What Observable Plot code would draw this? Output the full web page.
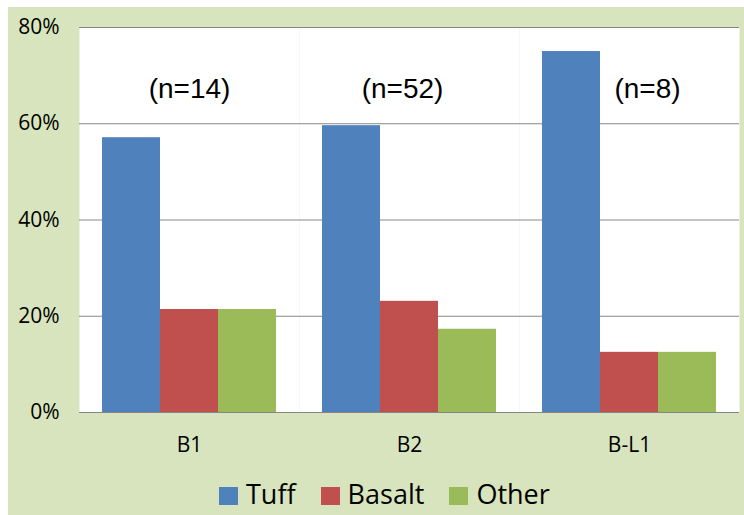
<!DOCTYPE html>
<html>
<head>
<meta charset="utf-8">
<script src="https://cdn.jsdelivr.net/npm/d3@7"></script>
<script src="https://cdn.jsdelivr.net/npm/@observablehq/plot@0.6"></script>
<style>
  html, body { margin: 0; padding: 0; background: #fff; }
  #wrap { position: relative; width: 744px; height: 515px; overflow: hidden; background: #fff; }
  #panel { position: absolute; left: 8px; top: 7px; right: 0; bottom: 0; background: #d7e4bd; }
  #chart { position: absolute; left: 0; top: 0; }
  #legend {
    position: absolute; left: 219px; top: 479px; height: 30px;
    display: flex; align-items: center;
    font-family: "Open Sans", sans-serif; font-size: 27px; line-height: 30px; color: #000;
  }
  .item { display: inline-flex; align-items: center; margin-right: 25px; }
  .swatch { display: inline-block; width: 19px; height: 18px; margin-right: 8px; margin-top: 3px; }
</style>
</head>
<body>
<div id="wrap">
  <div id="panel"></div>
  <div id="chart"></div>
  <div id="legend"></div>
</div>
<script>
// Sites (groups along the axis) and sample counts
const sites = ["B1", "B2", "B-L1"];
const counts = [14, 52, 8];

// Rock types (series) and their colours
const types = ["Tuff", "Basalt", "Other"];
const colors = ["#4f81bd", "#c0504d", "#9bbb59"];

// Share of each rock type per site
const tuff = [0.571, 0.596, 0.75];
const basalt = [0.214, 0.231, 0.125];
const other = [0.214, 0.173, 0.125];

// Y axis ticks
const yTicks = [0, 0.2, 0.4, 0.6, 0.8];

const series = [tuff, basalt, other];
const data = sites.flatMap((site, i) =>
  types.map((type, j) => ({site, type, value: series[j][i]}))
);

// Sample-size labels, each nudged horizontally within its group
const noteShift = [0, -7, 18];
const noteMarks = sites.map((site, i) =>
  Plot.text([{site, label: `(n=${counts[i]})`}], {
    fx: "site", text: "label", frameAnchor: "top", lineAnchor: "middle",
    dy: 62, dx: noteShift[i],
    fontFamily: "'Liberation Sans', Arial, sans-serif", fontSize: 28, fill: "#000"
  })
);

const chart = Plot.plot({
  width: 744,
  height: 470,
  marginLeft: 78,
  marginRight: 4,
  marginTop: 27,
  marginBottom: 58,
  style: {background: "transparent", fontFamily: "'Open Sans', sans-serif", fontSize: "21px", color: "#000", overflow: "visible"},
  fx: {domain: sites, padding: 0, axis: null},
  x: {domain: types, paddingInner: 0, paddingOuter: 0.38, axis: null},
  y: {domain: [0, 0.8], axis: null},
  color: {domain: types, range: colors},
  marks: [
    Plot.frame({fill: "white", stroke: "none"}),
    Plot.gridY(yTicks, {stroke: "#868686", strokeOpacity: 1, strokeWidth: 1}),
    Plot.barY(data, {fx: "site", x: "type", y: "value", fill: "type", inset: 0}),
    Plot.ruleY([0], {stroke: "#868686", strokeWidth: 1}),
    Plot.axisY(yTicks, {tickFormat: d3.format(".0%"), tickSize: 0, tickPadding: 20, fontSize: 21, label: null}),
    Plot.axisFx({anchor: "bottom", tickSize: 0, tickPadding: 25, fontSize: 21, label: null}),
    ...noteMarks
  ]
});
document.getElementById("chart").appendChild(chart);

// Legend below the chart
const legend = document.getElementById("legend");
types.forEach((t, i) => {
  const item = document.createElement("span");
  item.className = "item";
  const sw = document.createElement("span");
  sw.className = "swatch";
  sw.style.background = colors[i];
  item.appendChild(sw);
  item.appendChild(document.createTextNode(t));
  legend.appendChild(item);
});
</script>
</body>
</html>
